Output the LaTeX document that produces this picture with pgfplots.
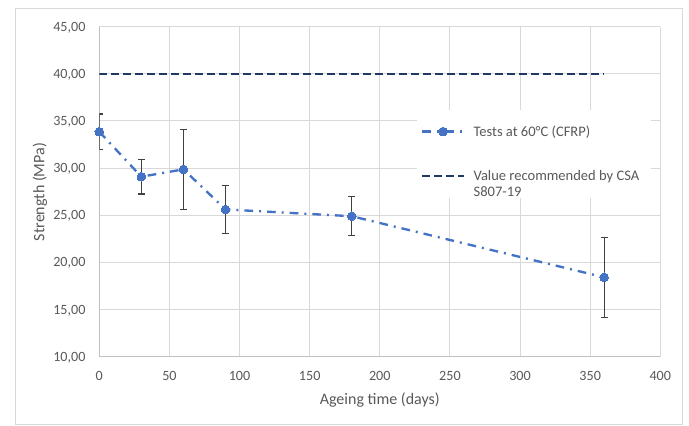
\documentclass[border=0pt]{standalone}
\usepackage{fontspec}
\setmainfont{Carlito}
\usepackage{pgfplots}
\pgfplotsset{compat=1.18}
\definecolor{txt}{HTML}{595959}
\definecolor{ser}{HTML}{4472C4}
\definecolor{navy}{HTML}{1F3864}
\definecolor{gridc}{HTML}{D9D9D9}
\definecolor{axc}{HTML}{BFBFBF}
\definecolor{errc}{HTML}{404040}
\begin{document}
\begin{tikzpicture}[x=0.75pt,y=0.75pt]
\useasboundingbox (0,0) rectangle (689,425);
\draw[gridc, line width=0.75pt] (15.5,1) rectangle (682,416.7);
\begin{axis}[
  at={(74.475pt,51.225pt)}, anchor=south west,
  scale only axis, width=420.75pt, height=247.5pt,
  xmin=0, xmax=400, ymin=10, ymax=45,
  xtick={0,50,...,400}, ytick={10,15,...,45},
  grid=major, major grid style={gridc, line width=0.75pt},
  axis x line*=bottom, axis y line*=left,
  axis line style={axc, line width=0.75pt, -},
  major tick length=0pt, tick style={draw=none},
  clip mode=individual,
  /pgf/number format/assume math mode=true,
  tick label style={font=\fontsize{10.6}{12}\selectfont, text=txt},
  xticklabel style={anchor=base, yshift=-17.8pt},
  yticklabel style={anchor=base east, inner sep=0pt, xshift=-10.2pt, yshift=-3.4pt},
  yticklabel={\pgfmathprintnumber[fixed,fixed zerofill,precision=2,use comma]{\tick}},
  xlabel={Ageing time (days)}, ylabel={Strength (MPa)},
  label style={font=\fontsize{12}{14}\selectfont, text=txt},
  xlabel style={at={(axis description cs:0.5,-0.131)}, anchor=center},
  ylabel style={at={(axis description cs:-0.1057,0.499)}, anchor=center},
  legend style={at={(axis description cs:0.5663,0.7476)}, anchor=north west,
    draw=none, fill=white, inner xsep=3pt, inner ysep=9.5pt,
    row sep=20pt, column sep=4.5pt,
    cells={anchor=base west, inner sep=0pt, font=\fontsize{10.9}{11.8}\selectfont, text=txt}},
  legend image code/.code={\draw[mark repeat=2,mark phase=2,#1] plot coordinates {(0pt,3.5pt) (15.5pt,3.5pt) (31pt,3.5pt)};},
]
\addplot[ser, line width=1.75pt, dash pattern=on 6.5pt off 4.5pt on 1.5pt off 4.5pt,
  mark=*, mark size=3.25pt, mark options={solid, fill=ser, draw=ser, line width=0pt},
  error bars/.cd, y dir=both, y explicit,
  error bar style={errc, line width=1pt, solid},
  error mark options={errc, line width=1pt, mark size=2.5pt, solid, rotate=90}]
  coordinates {
  (0,33.86) +- (0,1.88)
  (30,29.09) +- (0,1.85)
  (60,29.87) +- (0,4.25)
  (90,25.62) +- (0,2.53)
  (180,24.9) +- (0,2.07)
  (360,18.42) +- (0,4.25)
  };
\addlegendentry{Tests at 60°C (CFRP)}
\addplot[navy, line width=1.6pt, dash pattern=on 6pt off 3pt, mark=none]
  coordinates {(0,40) (360,40)};
\addlegendentry{\parbox[t]{128pt}{\raggedright Value recommended by CSA\\S807-19}}
\end{axis}
\end{tikzpicture}
\end{document}
